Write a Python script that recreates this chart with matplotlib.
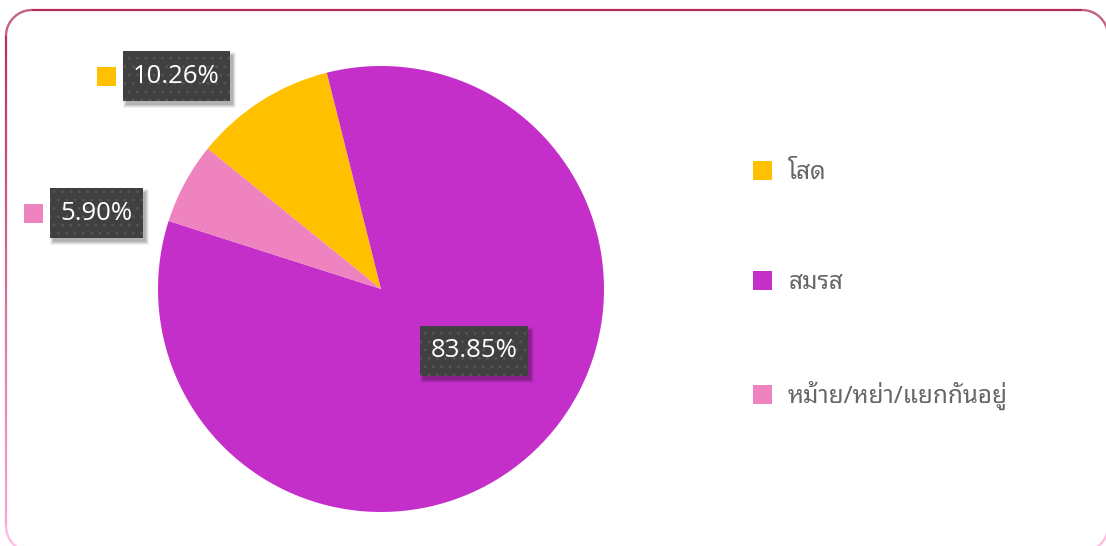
import numpy as np
import matplotlib
matplotlib.use("Agg")
import matplotlib.pyplot as plt
from matplotlib.collections import LineCollection
from matplotlib.patches import Rectangle
from matplotlib.colors import to_rgb

# Marital status shares (%)
categories = ["โสด", "สมรส", "หม้าย/หย่า/แยกกันอยู่"]
shares = [10.26, 83.85, 5.90]
colors = ["#FFC000", "#C42FCA", "#EF83BF"]
label_texts = [f"{v:.2f}%" for v in shares]
# label box centres in pie-radius units, relative to the pie centre
label_pos = [(-0.917, 0.955), (0.417, -0.276), (-1.276, 0.339)]
show_key = [True, False, True]

W, H = 1106, 546
fig = plt.figure(figsize=(W / 100, H / 100), dpi=100)
fig.patch.set_facecolor("white")


def rounded_rect(x0, y0, x1, y1, r, n=40):
    pts = []
    corners = [(x1 - r, y0 + r, -90, 0), (x1 - r, y1 - r, 0, 90),
               (x0 + r, y1 - r, 90, 180), (x0 + r, y0 + r, 180, 270)]
    for cx, cy, a0, a1 in corners:
        a = np.radians(np.linspace(a0, a1, n))
        pts.extend(zip(cx + r * np.cos(a), cy + r * np.sin(a)))
    pts.append(pts[0])
    return np.array(pts)


# rounded frame with a crimson-to-pink vertical gradient stroke (pixels from top-left)
frame = rounded_rect(6, 10, 1108, 552, 26)
dense = []
for p, q in zip(frame[:-1], frame[1:]):
    k = max(2, int(np.hypot(*(q - p)) / 4))
    for t in np.linspace(0, 1, k, endpoint=False):
        dense.append(p + t * (q - p))
dense.append(frame[-1])
dense = np.array(dense)
segs = np.stack([dense[:-1], dense[1:]], axis=1).copy()
segs[..., 1] = H - segs[..., 1]
top_c, bot_c = np.array(to_rgb("#B02C5C")), np.array(to_rgb("#FFA8DC"))
ymid = (H - segs[:, :, 1].mean(axis=1)) / H
seg_cols = [tuple(top_c + (bot_c - top_c) * min(1, max(0, (y - 0.02) / 0.98))) for y in ymid]
fig.add_artist(LineCollection(segs, colors=seg_cols, linewidths=1.6, transform=None, zorder=0))

# pie axes: centre (381, 289) px, radius 223 px
cx, cy, R = 381, 289, 223
ax = fig.add_axes([(cx - R) / W, (H - cy - R) / H, 2 * R / W, 2 * R / H])
wedges, _ = ax.pie(shares, colors=colors, startangle=141, counterclock=False,
                   radius=1.0, wedgeprops=dict(linewidth=0))
ax.set_xlim(-1, 1)
ax.set_ylim(-1, 1)
ax.set_aspect("equal")
ax.axis("off")

plt.rcParams["hatch.linewidth"] = 0.8
texts = []
for txt, (lx, ly) in zip(label_texts, label_pos):
    t = ax.text(lx, ly, txt, ha="center", va="center", color="white",
                fontsize=18.5, family=["Open Sans", "DejaVu Sans"], zorder=8,
                clip_on=False)
    texts.append(t)

fs = 17.5
leg = ax.legend(wedges, categories, loc="upper left",
                bbox_to_anchor=(753 / W, 1 - 161 / H), bbox_transform=fig.transFigure,
                frameon=False,
                prop=dict(family=["Noto Sans Thai Looped", "DejaVu Sans"], size=fs),
                labelcolor="#666666", handlelength=0.78, handleheight=0.78,
                handletextpad=0.66, labelspacing=3.54, borderaxespad=0, borderpad=0)

fig.canvas.draw()
rend = fig.canvas.get_renderer()
for t, key, col in zip(texts, show_key, colors):
    tb = t.get_window_extent(rend)
    bw, bh = tb.width + 21, 50
    x0 = (tb.x0 + tb.x1) / 2 - bw / 2
    y0 = (tb.y0 + tb.y1) / 2 - bh / 2
    # soft drop shadow towards the lower right
    for g, a in zip([4, 3, 2, 1], [0.05, 0.07, 0.09, 0.12]):
        ax.add_artist(Rectangle((x0 + 4 - g, y0 - 5 - g + 2), bw + 2 * g - 2, bh + 2 * g - 2,
                                transform=None, fc="black", ec="none", alpha=a,
                                zorder=5, clip_on=False))
    ax.add_artist(Rectangle((x0, y0), bw, bh, transform=None, fc="#404040",
                            ec="#555555", lw=0, hatch="..", zorder=6, clip_on=False))
    if key:
        s = 19
        ax.add_artist(Rectangle((x0 - 7 - s, y0 + bh / 2 - s / 2), s, s, transform=None,
                                fc=col, ec="none", zorder=6, clip_on=False))

fig.savefig("out.png", dpi=100)
